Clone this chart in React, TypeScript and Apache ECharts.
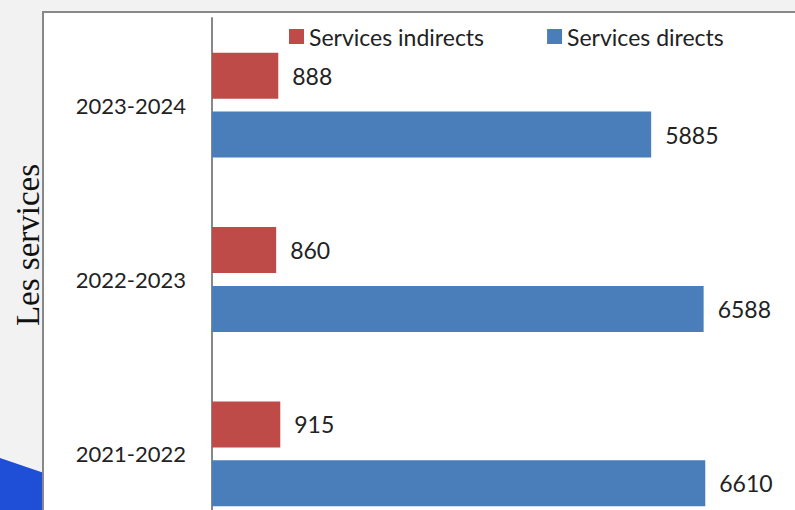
import React, { useEffect, useRef } from "react";
import * as echarts from "echarts";

const categories = ["2021-2022", "2022-2023", "2023-2024"];
const directs = [6610, 6588, 5885];
const indirects = [915, 860, 888];
const seriesNames = ["Services indirects", "Services directs"];
const axisTitle = "Les services";

export default function App() {
  const ref = useRef<HTMLDivElement>(null);
  useEffect(() => {
    if (!ref.current) return;
    const chart = echarts.init(ref.current, undefined, { renderer: "svg" });
    const font = "Lato, 'Open Sans', sans-serif";
    const label = { show: true, position: "right", distance: 14, fontSize: 23, fontFamily: font, color: "#222" };
    chart.setOption({
      animation: false,
      backgroundColor: "#f2f2f2",
      graphic: [
        {
          type: "polygon",
          z: -10,
          shape: { points: [[0, 458], [44, 473], [44, 510], [0, 510]] },
          style: { fill: "#1f4fd6" },
        },
        {
          type: "rect",
          z: -5,
          shape: { x: 43, y: 12, width: 800, height: 520 },
          style: { fill: "#ffffff", stroke: "#888888", lineWidth: 2 },
        },
        {
          type: "text",
          x: 28,
          y: 245,
          rotation: Math.PI / 2,
          style: {
            text: axisTitle,
            font: "33px 'Liberation Serif', 'Times New Roman', serif",
            fill: "#111",
            align: "center",
            verticalAlign: "middle",
          },
        },
      ],
      legend: {
        data: seriesNames,
        left: 289,
        top: 25,
        padding: 0,
        itemWidth: 15,
        itemHeight: 15,
        itemGap: 63,
        icon: "rect",
        textStyle: { fontSize: 23, fontFamily: font, color: "#222" },
      },
      grid: { left: 212, top: 18, width: 597, height: 523, outerBoundsMode: "none", containLabel: false },
      xAxis: {
        type: "value",
        min: 0,
        max: 8000,
        show: false,
        splitLine: { show: false },
      },
      yAxis: {
        type: "category",
        data: categories,
        axisLine: { show: true, lineStyle: { color: "#888", width: 2 } },
        axisTick: { show: false },
        axisLabel: { margin: 26, fontSize: 22, fontFamily: font, color: "#222" },
      },
      series: [
        {
          name: seriesNames[0],
          type: "bar",
          data: indirects,
          barWidth: 46,
          barGap: "28%",
          itemStyle: { color: "#be4b48" },
          label,
        },
        {
          name: seriesNames[1],
          type: "bar",
          data: directs,
          barWidth: 46,
          barGap: "28%",
          itemStyle: { color: "#4a7ebb" },
          label,
        },
      ],
    });
    return () => chart.dispose();
  }, []);
  return (
    <div
      ref={ref}
      style={{ position: "absolute", left: 0, top: 0, width: 795, height: 510 }}
    />
  );
}
